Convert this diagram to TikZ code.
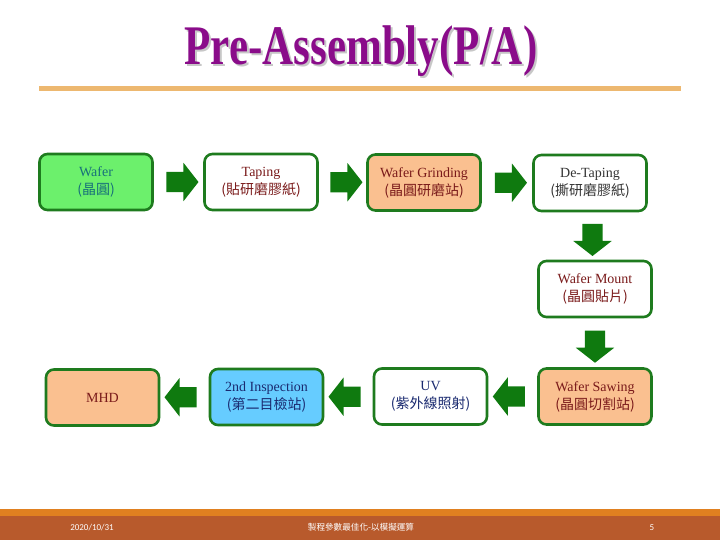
\documentclass[tikz,border=0pt]{standalone}
\usepackage{fontspec}
\setmainfont{Liberation Serif}
\newfontfamily\cjk{Noto Sans CJK TC}
\setsansfont{Carlito}
\usetikzlibrary{shapes.arrows,calc}
\definecolor{bordergreen}{HTML}{1E7B1E}
\definecolor{arrowgreen}{HTML}{0F7A0F}
\definecolor{lightgreen}{HTML}{6CF06C}
\definecolor{peach}{HTML}{FAC090}
\definecolor{lightblue}{HTML}{66CCFF}
\definecolor{titlepurple}{HTML}{8A0C8A}
\definecolor{lineorange}{HTML}{EDB870}
\definecolor{footbar}{HTML}{E08020}
\definecolor{footbg}{HTML}{B85A2C}
\definecolor{darkred}{HTML}{7A1A1A}
\definecolor{navy}{HTML}{1A2A70}
\definecolor{teal2}{HTML}{17707A}
\tikzset{
  procbox/.style={draw=bordergreen, line width=2.6pt, rounded corners=8pt,
    minimum width=113pt, minimum height=56pt, align=center,
    font=\fontsize{14}{18}\selectfont, inner sep=0pt},
  blockarrow/.style={single arrow, fill=arrowgreen, draw=none,
    minimum height=32pt, single arrow head extend=9pt,
    single arrow tip angle=104, inner xsep=0pt, inner ysep=10pt},
  foottext/.style={text=white, font=\sffamily\fontsize{9}{10}\selectfont},
  titletext/.style={font=\bfseries\fontsize{43}{45}\selectfont, anchor=base}
}
\begin{document}
\begin{tikzpicture}[x=1pt,y=-1pt]
\useasboundingbox (0,0) rectangle (720,540);
\fill[white] (0,0) rectangle (720,540);
% title
\node[titletext, text=black!22] at (363,67) {\scalebox{1}[1.3]{Pre-Assembly(P/A)}};
\node (title) [titletext, text=titlepurple] at (361,65) {\scalebox{1}[1.3]{Pre-Assembly(P/A)}};
\fill[lineorange] (39,86.5) rectangle (681,91);
% row 1
\node (wafer) [procbox, fill=lightgreen, text=teal2] at (96,182) {Wafer\\{\cjk (晶圓)}};
\node (taping) [procbox, fill=white, text=darkred] at (261,182) {Taping\\{\cjk (貼研磨膠紙)}};
\node (grind) [procbox, fill=peach, text=darkred] at (424,182.5) {Wafer Grinding\\{\cjk (晶圓研磨站)}};
\node (detape) [procbox, fill=white, text=black!80] at (590,183) {De-Taping\\{\cjk (撕研磨膠紙)}};
% row 2
\node (mount) [procbox, fill=white, text=darkred] at (595,289) {Wafer Mount\\{\cjk (晶圓貼片)}};
% row 3
\node (saw) [procbox, fill=peach, text=darkred] at (595,396.5) {Wafer Sawing\\{\cjk (晶圓切割站)}};
\node (uv) [procbox, fill=white, text=navy] at (430.5,396.5) {UV\\{\cjk (紫外線照射)}};
\node (insp) [procbox, fill=lightblue, text=navy] at (266.5,397) {2nd Inspection\\{\cjk (第二目檢站)}};
\node (mhd) [procbox, fill=peach, text=darkred] at (102.5,397.5) {MHD};
% arrows
\node (a1) [blockarrow] at ($(wafer.east)!0.5!(taping.west)$) {};
\node (a2) [blockarrow] at ($(taping.east)!0.5!(grind.west)$) {};
\node (a3) [blockarrow] at ($(grind.east)!0.5!(detape.west)$) {};
\node (a4) [blockarrow, rotate=-90] at ($(detape.south)!0.5!(mount.north)$) {};
\node (a5) [blockarrow, rotate=-90] at ($(mount.south)!0.5!(saw.north)$) {};
\node (a6) [blockarrow, rotate=180] at ($(saw.west)!0.5!(uv.east)$) {};
\node (a7) [blockarrow, rotate=180] at ($(uv.west)!0.5!(insp.east)$) {};
\node (a8) [blockarrow, rotate=180] at ($(insp.west)!0.5!(mhd.east)$) {};
% footer
\fill[footbar] (0,508.5) rectangle (720,515.5);
\fill[footbg] (0,515.5) rectangle (720,540);
\node (date) [foottext] at (92,527.5) {2020/10/31};
\node (ftitle) [foottext, font=\cjk\fontsize{8.6}{9}\selectfont] at (361,527.5) {製程參數最佳化-以模擬運算};
\node (page) [foottext] at (652,527.5) {5};
\end{tikzpicture}
\end{document}
